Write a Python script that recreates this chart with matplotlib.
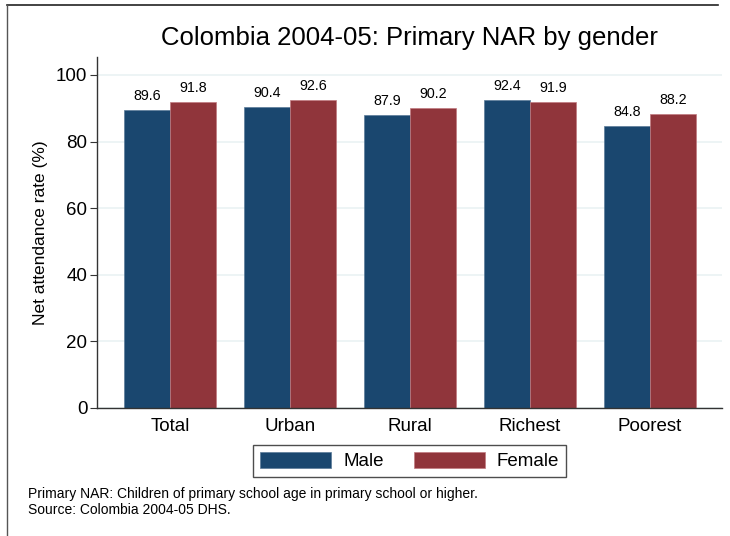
import numpy as np
import matplotlib
matplotlib.use("Agg")
from matplotlib import pyplot as plt
from matplotlib.lines import Line2D

categories = ["Total", "Urban", "Rural", "Richest", "Poorest"]
male = [89.6, 90.4, 87.9, 92.4, 84.8]
female = [91.8, 92.6, 90.2, 91.9, 88.2]
series_names = ["Male", "Female"]
yticks = [0, 20, 40, 60, 80, 100]


def main():
    plt.rcParams['font.family'] = ['Liberation Sans', 'DejaVu Sans']
    male_color = "#1a476f"
    female_color = "#90353b"

    fig = plt.figure(figsize=(7.3, 5.36), dpi=100)
    ax = fig.add_axes([97 / 730, 1 - 408 / 536, 625 / 730, 351 / 536])

    x = np.arange(len(categories))
    w = 0.383
    b1 = ax.bar(x - w / 2, male, w, color=male_color, edgecolor="#5a7a98",
                linewidth=0.5, label=series_names[0], zorder=2)
    b2 = ax.bar(x + w / 2, female, w, color=female_color, edgecolor="#c07a80",
                linewidth=0.5, label=series_names[1], zorder=2)
    for bars, vals in ((b1, male), (b2, female)):
        for r, v in zip(bars, vals):
            ax.annotate(f"{v:.1f}", (r.get_x() + r.get_width() / 2, v),
                        xytext=(0, 5), textcoords="offset points",
                        ha="center", va="bottom", fontsize=10.3)

    ax.set_xlim(-0.608, 4.6)
    ax.set_ylim(0, 105.4)
    ax.set_yticks(yticks)
    ax.set_xticks(x)
    ax.set_xticklabels(categories, fontsize=13.5)
    ax.tick_params(axis="x", length=0, pad=7)
    ax.tick_params(axis="y", labelsize=13.5, length=5, color="#333333", pad=2)
    ax.yaxis.grid(True, color="#eaf2f3", linewidth=1.2, zorder=0)
    ax.set_axisbelow(True)
    for s in ("top", "right"):
        ax.spines[s].set_visible(False)
    for s in ("left", "bottom"):
        ax.spines[s].set_color("#333333")
        ax.spines[s].set_linewidth(1.0)
    ax.set_ylabel("Net attendance rate (%)", fontsize=12.5, labelpad=6)

    fig.text(409.5 / 730, 1 - 38 / 536, "Colombia 2004-05: Primary NAR by gender",
             ha="center", va="center", fontsize=18.5)

    leg = fig.legend(handles=[b1, b2], labels=series_names, loc="center",
                     bbox_to_anchor=(409.5 / 730, 1 - 461 / 536), ncol=2,
                     fontsize=13.5, handlelength=3.8, handleheight=0.95,
                     columnspacing=1.6, handletextpad=0.65, borderpad=0.35,
                     fancybox=False, frameon=True)
    leg.get_frame().set_edgecolor("#222222")
    leg.get_frame().set_linewidth(1.0)

    fig.text(28 / 730, 1 - 494 / 536,
             "Primary NAR: Children of primary school age in primary school or higher.",
             ha="left", va="center", fontsize=10)
    fig.text(28 / 730, 1 - 510 / 536, "Source: Colombia 2004-05 DHS.",
             ha="left", va="center", fontsize=10)

    # outer graph region border (cut off on right and bottom)
    fig.add_artist(Line2D([7 / 730, 718 / 730], [1 - 5 / 536, 1 - 5 / 536],
                          transform=fig.transFigure, color="#222222", linewidth=1.2))
    fig.add_artist(Line2D([7 / 730, 7 / 730], [1 - 5 / 536, 0],
                          transform=fig.transFigure, color="#555555", linewidth=1.0))

    fig.savefig("out.png", dpi=100)
    return 0


if __name__ == '__main__':
    raise SystemExit(main())
